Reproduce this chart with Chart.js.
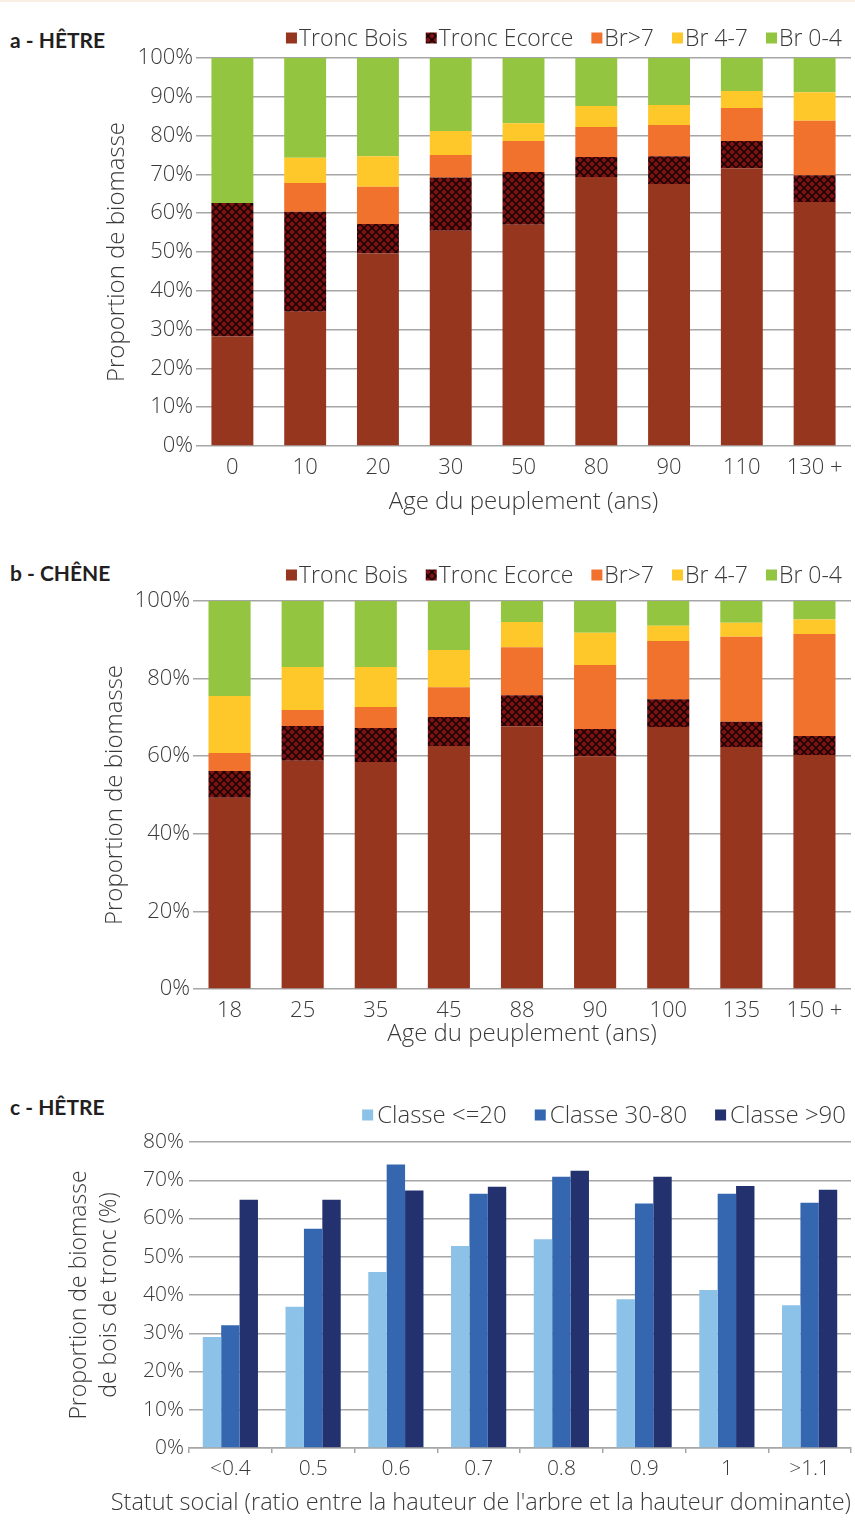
<!DOCTYPE html>
<html><head><meta charset="utf-8">
<script src="https://cdn.jsdelivr.net/npm/chart.js@4.4.0/dist/chart.umd.min.js"></script>
<style>
html,body{margin:0;padding:0;background:#fff;}
body{width:855px;height:1539px;position:relative;overflow:hidden;font-family:'Open Sans',sans-serif;}
.strip{position:absolute;left:0;top:0;width:855px;height:2px;background:#fbeee2;}
.ttl{position:absolute;left:10px;font-family:Lato,sans-serif;font-weight:700;font-size:21px;line-height:24px;color:#231f20;white-space:nowrap;}
.box{position:absolute;left:0;width:855px;}
</style></head><body>
<div class="strip"></div>
<div class="ttl" style="top:28px">a - HÊTRE</div>
<div class="ttl" style="top:561px">b - CHÊNE</div>
<div class="ttl" style="top:1095px">c - HÊTRE</div>
<div class="box" style="top:0;height:525px"><canvas id="ca" width="855" height="525"></canvas></div>
<div class="box" style="top:540px;height:525px"><canvas id="cb" width="855" height="525"></canvas></div>
<div class="box" style="top:1080px;height:459px"><canvas id="cc" width="855" height="459"></canvas></div>
<script>
// ---- Data ----
const agesHetre = ['0','10','20','30','50','80','90','110','130 +'];
const hetreTroncBois   = [28.2,34.6,49.6,55.5,57.0,69.3,67.5,71.6,62.9];
const hetreTroncEcorce = [34.4,25.8,7.6,13.7,13.6,5.2,7.2,7.0,6.9];
const hetreBrSup7      = [0,7.4,9.6,5.8,8.0,7.7,8.0,8.5,14.0];
const hetreBr47        = [0,6.5,7.9,6.2,4.6,5.4,5.2,4.4,7.4];
const hetreBr04        = [37.4,25.7,25.3,18.8,16.8,12.4,12.1,8.5,8.8];

const agesChene = ['18','25','35','45','88','90','100','135','150 +'];
const cheneTroncBois   = [49.3,58.8,58.5,62.6,67.7,60.0,67.5,62.4,60.3];
const cheneTroncEcorce = [6.9,9.0,8.8,7.5,8.0,7.0,7.2,6.5,4.9];
const cheneBrSup7      = [4.6,4.1,5.4,7.7,12.4,16.5,15.0,21.9,26.3];
const cheneBr47        = [14.7,11.1,10.3,9.6,6.5,8.3,3.9,3.6,3.7];
const cheneBr04        = [24.5,17.0,17.0,12.6,5.4,8.2,6.4,5.6,4.8];

const statutSocial = ['<0.4','0.5','0.6','0.7','0.8','0.9','1','>1.1'];
const classe20   = [29.0,36.9,46.0,52.8,54.6,38.9,41.3,37.3];
const classe3080 = [32.1,57.3,74.1,66.5,70.9,63.9,66.5,64.1];
const classe90   = [64.9,64.9,67.3,68.3,72.5,70.9,68.5,67.5];

const seriesNames = ['Tronc Bois','Tronc Ecorce','Br>7','Br 4-7','Br 0-4'];
const classNames = ['Classe <=20','Classe 30-80','Classe >90'];

// ---- Styles ----
const FONT = "'Open Sans', sans-serif";
Chart.defaults.font.family = FONT;
Chart.defaults.font.weight = 300;
Chart.defaults.color = '#3a3a3a';
const GRID = '#a6a6a6';

function makeHatch(){
  const c = document.createElement('canvas');
  c.width = 8; c.height = 8;
  const x = c.getContext('2d');
  x.fillStyle = '#7e1212';
  x.fillRect(0,0,8,8);
  x.strokeStyle = '#160202';
  x.lineWidth = 1.5;
  x.beginPath();
  x.moveTo(-1,-1); x.lineTo(9,9);
  x.moveTo(9,-1); x.lineTo(-1,9);
  x.stroke();
  return x.createPattern(c,'repeat');
}
const hatch = makeHatch();
const colStack = ['#96361f', hatch, '#f1722d', '#fec82b', '#93c540'];
const colClass = ['#8cc1e8', '#3566b0', '#23316e'];

const topLegend = {
  id: 'topLegend',
  afterDraw(chart, args, o) {
    const ctx = chart.ctx;
    ctx.save();
    ctx.font = `300 ${o.size}px ${FONT}`;
    ctx.textBaseline = 'middle';
    const ds = chart.data.datasets;
    const widths = ds.map(d => o.box + o.gap + ctx.measureText(d.label).width);
    const total = widths.reduce((a,b)=>a+b,0) + o.spacing*(ds.length-1);
    let x = o.right - total;
    ds.forEach((d,i) => {
      ctx.fillStyle = d.backgroundColor;
      ctx.fillRect(x, o.y - o.box/2, o.box, o.box);
      ctx.fillStyle = '#3a3a3a';
      ctx.fillText(d.label, x + o.box + o.gap, o.y + 1);
      x += widths[i] + o.spacing;
    });
    ctx.restore();
  }
};

function stackedChart(id, labels, data, opt) {
  return new Chart(document.getElementById(id), {
    type: 'bar',
    data: {
      labels: labels,
      datasets: data.map((d,i) => ({
        label: seriesNames[i], data: d, backgroundColor: colStack[i],
        borderWidth: 0, barPercentage: 0.576, categoryPercentage: 1.0
      }))
    },
    plugins: [topLegend],
    options: {
      responsive: false, animation: false,
      layout: {padding: {left: 0, right: 4, top: opt.top, bottom: 0}},
      plugins: {
        legend: {display: false}, tooltip: {enabled: false},
        topLegend: {right: 842, y: opt.legendY, size: 23, box: 11, gap: 2, spacing: 18}
      },
      scales: {
        x: {
          stacked: true,
          grid: {display: false}, border: {display: false},
          ticks: {font: {size: 22}, padding: 1, color: '#3a3a3a'},
          title: {display: true, text: 'Age du peuplement (ans)', font: {size: 24}, padding: {top: 0, bottom: opt.xTitlePad}, color: '#3a3a3a'},
          afterFit: s => { s.height = opt.xHeight; }
        },
        y: {
          stacked: true, min: 0, max: 100,
          ticks: {stepSize: opt.step, font: {size: 22}, padding: 3, color: '#3a3a3a', callback: v => v + '%'},
          grid: {color: GRID, lineWidth: 1.5, drawTicks: false},
          border: {display: false},
          title: {display: true, text: 'Proportion de biomasse', font: {size: 24}, padding: {top: opt.yTitlePad, bottom: 0}, color: '#3a3a3a'},
          afterFit: s => { s.width = opt.yWidth; }
        }
      }
    }
  });
}

stackedChart('ca', agesHetre, [hetreTroncBois, hetreTroncEcorce, hetreBrSup7, hetreBr47, hetreBr04],
  {top: 58, legendY: 38, xHeight: 79, xTitlePad: 8.6, yWidth: 196, yTitlePad: 102.6, step: 10});
stackedChart('cb', agesChene, [cheneTroncBois, cheneTroncEcorce, cheneBrSup7, cheneBr47, cheneBr04],
  {top: 61, legendY: 35, xHeight: 76, xTitlePad: 16.6, yWidth: 193, yTitlePad: 100.6, step: 20});

new Chart(document.getElementById('cc'), {
  type: 'bar',
  data: {
    labels: statutSocial,
    datasets: [classe20, classe3080, classe90].map((d,i) => ({
      label: classNames[i], data: d, backgroundColor: colClass[i],
      borderWidth: 0, barPercentage: 1.0, categoryPercentage: 0.667
    }))
  },
  plugins: [topLegend],
  options: {
    responsive: false, animation: false,
    layout: {padding: {left: 0, right: 4, top: 62, bottom: 0}},
    plugins: {
      legend: {display: false}, tooltip: {enabled: false},
      topLegend: {right: 846, y: 35, size: 24, box: 11, gap: 4, spacing: 28},
      title: {display: true, position: 'bottom', align: 'end',
        text: "Statut social (ratio entre la hauteur de l'arbre et la hauteur dominante)",
        font: {size: 23.5, weight: 300}, color: '#3a3a3a', padding: {top: 0, bottom: 21.9}}
    },
    scales: {
      x: {
        grid: {display: true, drawOnChartArea: false, drawTicks: true, tickLength: 5, offset: true, color: GRID, lineWidth: 1.5},
        border: {display: true, color: GRID, width: 1.5},
        ticks: {font: {size: 21}, padding: 3, color: '#3a3a3a'},
        afterFit: s => { s.height = 40.9; }
      },
      y: {
        min: 0, max: 80,
        ticks: {stepSize: 10, font: {size: 21}, padding: 5, color: '#3a3a3a', callback: v => v + '%'},
        grid: {color: GRID, lineWidth: 1.5, drawTicks: false},
        border: {display: false},
        title: {display: true, text: ['Proportion de biomasse', 'de bois de tronc (%)'], font: {size: 23, lineHeight: 1.3}, padding: {top: 65, bottom: 0}, color: '#3a3a3a'},
        afterFit: s => { s.width = 189; }
      }
    }
  }
});
</script>
</body></html>
